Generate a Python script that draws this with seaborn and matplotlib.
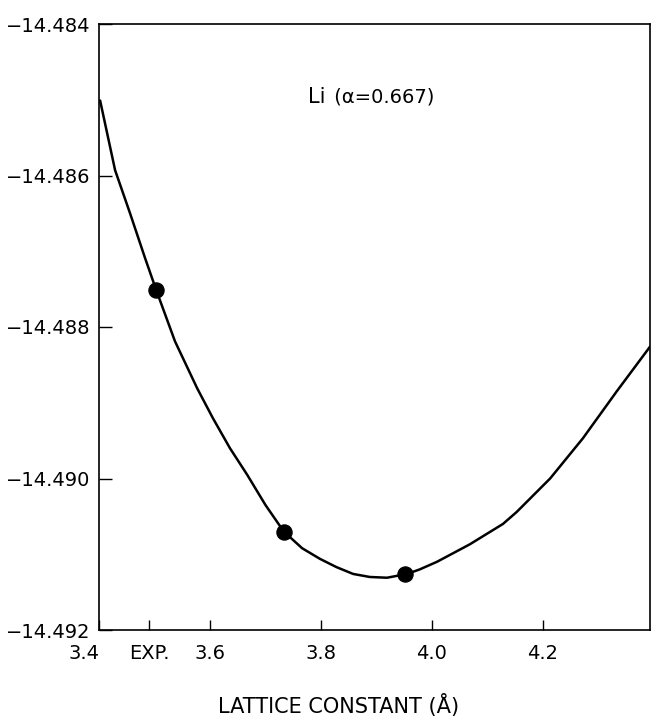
import matplotlib
matplotlib.use("Agg")
import pandas as pd
import matplotlib.pyplot as plt
import seaborn as sns

sns.set_style("ticks")
plt.rcParams['font.family'] = ['DejaVu Sans']
plt.rcParams['xtick.direction'] = 'in'
plt.rcParams['ytick.direction'] = 'in'
plt.rcParams['text.color'] = 'black'

# curve: lattice constant (A) vs total energy
curve_a = [3.402, 3.429, 3.456, 3.483, 3.503, 3.537, 3.577, 3.605, 3.636, 3.667,
           3.700, 3.733, 3.766, 3.798, 3.828, 3.858, 3.888, 3.919, 3.955, 3.978,
           4.009, 4.068, 4.128, 4.153, 4.213, 4.272, 4.333, 4.393]
curve_e = [-14.48501, -14.48593, -14.48650, -14.48709, -14.48751, -14.48819,
           -14.48881, -14.48920, -14.48960, -14.48995, -14.49035, -14.49070,
           -14.49092, -14.49106, -14.49117, -14.49126, -14.49130, -14.49131,
           -14.49126, -14.49120, -14.49110, -14.49087, -14.49060, -14.49044,
           -14.49000, -14.48947, -14.48885, -14.48826]

# calculated points
pts_a = [3.502, 3.733, 3.951]
pts_e = [-14.48751, -14.49070, -14.49126]

xticks = [3.4, 3.49, 3.6, 3.8, 4.0, 4.2]
xticklabels = ['3.4', 'EXP.', '3.6', '3.8', '4.0', '4.2']
yticks = [-14.484, -14.486, -14.488, -14.490, -14.492]
yticklabels = ['\u221214.484', '\u221214.486', '\u221214.488', '\u221214.490', '\u221214.492']

curve = pd.DataFrame({'a': curve_a, 'e': curve_e})
pts = pd.DataFrame({'a': pts_a, 'e': pts_e})

fig = plt.figure(figsize=(6.54, 7.21), dpi=100)
ax = fig.add_axes([99 / 654, 1 - 630 / 721, 551 / 654, 606 / 721])

sns.lineplot(data=curve, x='a', y='e', ax=ax, color='black', linewidth=1.8,
             sort=True)
sns.scatterplot(data=pts, x='a', y='e', ax=ax, color='black', s=120,
                edgecolor='black', zorder=3)

ax.set_xlim(3.4, 4.393)
ax.set_ylim(-14.492, -14.484)
ax.set_xticks(xticks)
ax.set_xticklabels(xticklabels)
ax.set_yticks(yticks)
ax.set_yticklabels(yticklabels)
ax.tick_params(axis='y', direction='in', length=9, width=1, labelsize=14,
               pad=6, colors='black')
ax.tick_params(axis='x', direction='in', length=7, width=1, labelsize=14,
               pad=10, colors='black')
ax.get_xticklabels()[0].set_horizontalalignment('right')
ax.set_xlabel('')
ax.set_ylabel('')
for s in ax.spines.values():
    s.set_visible(True)
    s.set_linewidth(1.2)
    s.set_color('black')

ax.text(3.808, -14.48496, 'Li', fontsize=15, ha='right', va='center',
        color='black')
ax.text(3.812, -14.48496, ' (\u03b1=0.667)', fontsize=14, ha='left',
        va='center', color='black')

fig.text(339 / 654, 1 - 705 / 721, 'LATTICE CONSTANT (\u00c5)', fontsize=15,
         ha='center', va='center', color='black')

fig.savefig('out.png', dpi=100)
